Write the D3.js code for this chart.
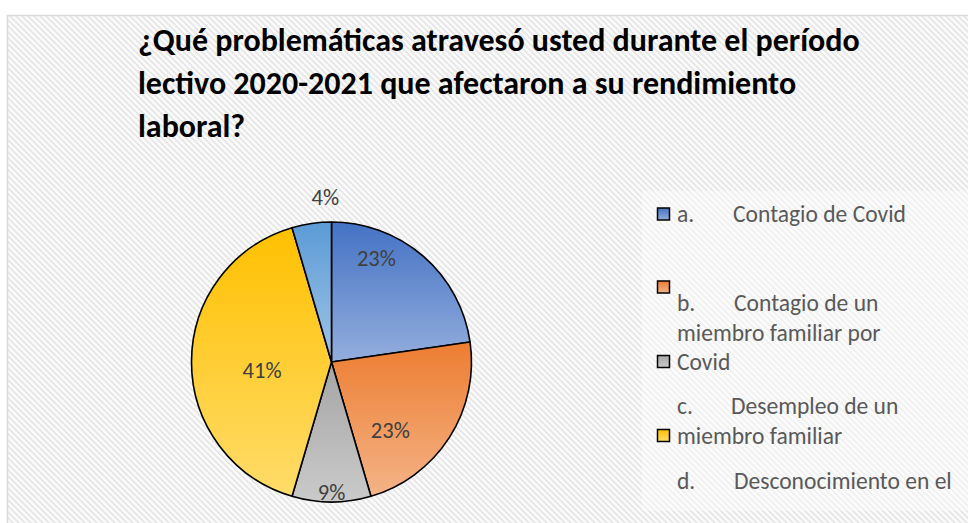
<!DOCTYPE html>
<html>
<head>
<meta charset="utf-8">
<script src="https://cdn.jsdelivr.net/npm/d3@7"></script>
<style>
  body { margin: 0; background: #fff; }
  svg { display: block; font-family: Carlito, Calibri, Lato, "Open Sans", sans-serif; }
</style>
</head>
<body>
<svg id="chart" width="968" height="523"></svg>
<script>
// data
const categories = [
  "a. Contagio de Covid",
  "b. Contagio de un miembro familiar por Covid",
  "c. Desempleo de un miembro familiar",
  "d. Desconocimiento en el",
  "e."
];
const counts = [5, 5, 2, 9, 1];
const percentLabels = ["23%", "23%", "9%", "41%", "4%"];
const titleLines = [
  "¿Qué problemáticas atravesó usted durante el período",
  "lectivo 2020-2021 que afectaron a su rendimiento",
  "laboral?"
];
// legend text as it is wrapped in the original (letter, rest)
const legendLines = [
  ["a.", "Contagio de Covid"],
  ["b.", "Contagio de un"],
  ["", "miembro familiar por"],
  ["", "Covid"],
  ["c.", "Desempleo de un"],
  ["", "miembro familiar"],
  ["d.", "Desconocimiento en el"]
];

const colorTop = ["#4472C4", "#ED7D31", "#A5A5A5", "#FFC000", "#5B9BD5"];
const colorBottom = ["#94AEDD", "#F4B387", "#CACACA", "#FFDC6A", "#A0C4E8"];

const W = 968, H = 523;
const svg = d3.select("#chart");
const defs = svg.append("defs");

// hatched chart-area background
const pat = defs.append("pattern")
  .attr("id", "hatch")
  .attr("patternUnits", "userSpaceOnUse")
  .attr("width", 6).attr("height", 6);
pat.append("rect").attr("width", 6).attr("height", 6).attr("fill", "#fcfcfc");
pat.append("path")
  .attr("d", "M-1,-1 L7,7 M-1,5 L1,7 M5,-1 L7,1")
  .attr("stroke", "#e8e8e8")
  .attr("stroke-width", 2);

svg.append("rect").attr("width", W).attr("height", H).attr("fill", "#fff");
svg.append("rect")
  .attr("x", 7.5).attr("y", 15.5)
  .attr("width", W + 10).attr("height", H)
  .attr("fill", "url(#hatch)")
  .attr("stroke", "#d9d9d9")
  .attr("stroke-width", 1.5);

// gradients, one per slice
colorTop.forEach(function(c, i) {
  const g = defs.append("linearGradient")
    .attr("id", "grad" + i)
    .attr("x1", 0).attr("y1", 0).attr("x2", 0).attr("y2", 1);
  g.append("stop").attr("offset", "0%").attr("stop-color", c);
  g.append("stop").attr("offset", "100%").attr("stop-color", colorBottom[i]);
});

// helper: pick a font size so a string gets a given width
function fitSize(sel, base, target) {
  const w = sel.node().getComputedTextLength();
  return base * target / w;
}

// title
const title = svg.append("g");
const titleBase = [51, 94, 137];
titleLines.forEach(function(t, i) {
  title.append("text")
    .attr("x", 138)
    .attr("y", titleBase[i])
    .attr("font-weight", "bold")
    .attr("font-size", 27)
    .attr("fill", "#000")
    .text(t);
});
title.selectAll("text").attr("font-size", fitSize(title.select("text"), 27, 722));

// pie
const cx = 331.5, cy = 362, radius = 140;
const pie = d3.pie().sort(null).value(function(d) { return d; });
const arcs = pie(counts);
const arc = d3.arc().innerRadius(0).outerRadius(radius);

const pieG = svg.append("g").attr("transform", "translate(" + cx + "," + cy + ")");
pieG.selectAll("path.slice")
  .data(arcs)
  .enter()
  .append("path")
  .attr("class", "slice")
  .attr("d", arc)
  .attr("fill", function(d, i) { return "url(#grad" + i + ")"; })
  .attr("stroke", "#000")
  .attr("stroke-width", 1.6)
  .attr("stroke-linejoin", "round");

// label placement (Excel best fit), relative to mid angle
const labelPlace = [
  { r: 113, da: -17.5 },
  { r: 90, da: 16.5 },
  { r: 130, da: 0 },
  { r: 70, da: -7 },
  { r: 165, da: 6 }
];
const pct = pieG.selectAll("text.pct")
  .data(arcs)
  .enter()
  .append("text")
  .attr("class", "pct")
  .attr("x", function(d, i) {
    const a = (d.startAngle + d.endAngle) / 2 + labelPlace[i].da * Math.PI / 180;
    return Math.sin(a) * labelPlace[i].r;
  })
  .attr("y", function(d, i) {
    const a = (d.startAngle + d.endAngle) / 2 + labelPlace[i].da * Math.PI / 180;
    return -Math.cos(a) * labelPlace[i].r;
  })
  .attr("dy", "0.35em")
  .attr("text-anchor", "middle")
  .attr("font-size", 19)
  .attr("fill", "#404040")
  .text(function(d, i) { return percentLabels[i]; });
pct.attr("font-size", fitSize(pct, 19, 39));

// legend
const leg = svg.append("g");
leg.append("rect")
  .attr("x", 642).attr("y", 191)
  .attr("width", 340).attr("height", 320)
  .attr("fill", "#fff")
  .attr("opacity", 0.4);

const lineY = [214, 303, 333, 362, 406, 436, 481];
const tabX = [733, 734, 677, 677, 731, 677, 734];
const markerY = [214.5, 287.5, 362, 436];

leg.selectAll("rect.key")
  .data(markerY)
  .enter()
  .append("rect")
  .attr("class", "key")
  .attr("x", 657.5)
  .attr("y", function(d) { return d - 6.5; })
  .attr("width", 12).attr("height", 12)
  .attr("fill", function(d, i) { return "url(#grad" + i + ")"; })
  .attr("stroke", "#000")
  .attr("stroke-width", 1.5);

legendLines.forEach(function(l, i) {
  if (l[0]) {
    leg.append("text")
      .attr("class", "lt")
      .attr("x", 677).attr("y", lineY[i]).attr("dy", "0.35em")
      .attr("font-size", 18).attr("fill", "#595959")
      .text(l[0]);
  }
  leg.append("text")
    .attr("class", "lt")
    .attr("x", tabX[i]).attr("y", lineY[i]).attr("dy", "0.35em")
    .attr("font-size", 18).attr("fill", "#595959")
    .text(l[1]);
});
// "Contagio de Covid" spans about 173px in the picture
const legSize = fitSize(leg.selectAll("text.lt").filter(function(d, i) { return i === 1; }), 18, 173);
leg.selectAll("text.lt").attr("font-size", legSize);
</script>
</body>
</html>
